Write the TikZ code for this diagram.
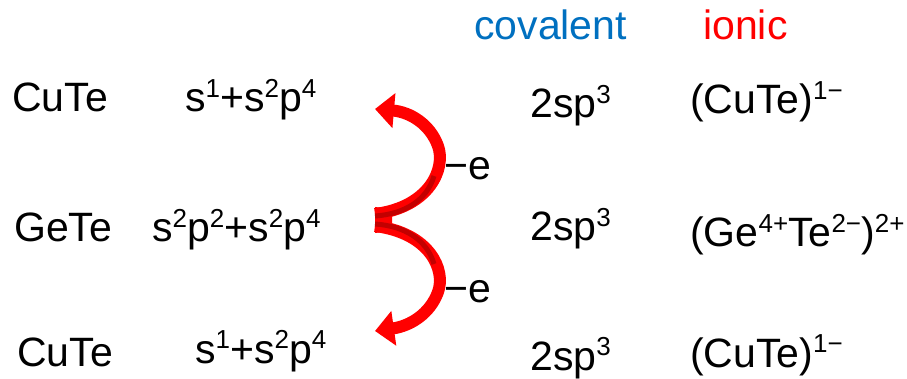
\documentclass[tikz,border=0pt]{standalone}
\usepackage{fontspec}
\setmainfont{Liberation Sans}
\usetikzlibrary{arrows.meta}
\definecolor{covblue}{RGB}{0,112,192}
\definecolor{ionred}{RGB}{255,0,0}
\definecolor{arrred}{RGB}{255,0,0}
\definecolor{arrdark}{RGB}{195,0,0}
\newcommand\sups[1]{\raisebox{14.5pt}{\fontsize{26}{26}\selectfont #1}}
\begin{document}
\begin{tikzpicture}[x=1pt,y=-1pt,
  lbl/.style={anchor=base west,inner sep=0pt,font=\fontsize{41}{44}\selectfont},
  bigarrow/.style={draw=arrred,line width=12pt,-{Triangle[width=34pt,length=19pt]}},
  shade/.style={draw=arrdark,line width=5pt,line cap=butt}]
\useasboundingbox (0,0) rectangle (907,379);
% headers
\node[lbl,text=covblue] (cov) at (474,40) {covalent};
\node[lbl,text=ionred] (ion) at (703,40) {ionic};
% row 1
\node[lbl] (r1a) at (12,112) {CuTe};
\node[lbl] (r1b) at (185,112) {s\sups{1}+s\sups{2}p\sups{4}};
\node[lbl] (r1c) at (530,118) {2sp\sups{3}};
\node[lbl] (r1d) at (690,114) {(CuTe)\sups{1−}};
% row 2
\node[lbl] (r2a) at (14,242) {GeTe};
\node[lbl] (r2b) at (152,242) {s\sups{2}p\sups{2}+s\sups{2}p\sups{4}};
\node[lbl] (r2c) at (530,241) {2sp\sups{3}};
\node[lbl] (r2d) at (690,247) {(Ge\sups{4+}Te\sups{2−})\sups{2+}};
% row 3
\node[lbl] (r3a) at (17,366) {CuTe};
\node[lbl] (r3b) at (195,363) {s\sups{1}+s\sups{2}p\sups{4}};
\node[lbl] (r3c) at (530,370) {2sp\sups{3}};
\node[lbl] (r3d) at (690,367) {(CuTe)\sups{1−}};
% electron labels
\node[lbl] (e1) at (444,180) {−e};
\node[lbl] (e2) at (444,302) {−e};
% arrows
\coordinate (tailU) at (375,214);
\coordinate (tipU) at (375,109);
\coordinate (tailD) at (375,226);
\coordinate (tipD) at (375,331);
\draw[bigarrow] (tailU) .. controls (430,207) and (446,168) .. (438,146) .. controls (430,124) and (410,112) .. (tipU);
\draw[bigarrow] (tailD) .. controls (430,233) and (446,270) .. (438,292) .. controls (430,314) and (410,326) .. (tipD);
\fill[arrred] (375,207) -- (375,233) -- (392,231) -- (392,209) -- cycle;
\draw[shade] (375,216) .. controls (405,214) and (427,200) .. (434,176);
\draw[shade] (375,224) .. controls (405,226) and (427,240) .. (434,264);
\end{tikzpicture}
\end{document}
